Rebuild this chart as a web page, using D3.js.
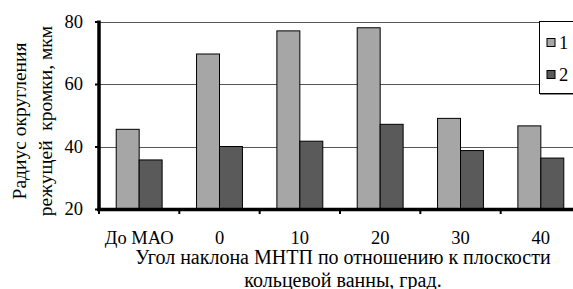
<!DOCTYPE html>
<html lang="ru">
    <head>
        <meta charset="utf-8">
        <script type="text/javascript" src="https://d3js.org/d3.v7.min.js"></script>
        <style type="text/css">
            body { margin: 0; background: #fff; }
        </style>
    </head>
    <body>
        <script type="text/javascript">

            //Data
            var categories = ["До МАО", "0", "10", "20", "30", "40"];
            var seriesNames = ["1", "2"];
            var series1 = [45.5, 69.6, 77.0, 78.0, 49.0, 46.6];
            var series2 = [35.7, 40.0, 41.7, 47.1, 38.7, 36.3];
            var yTicks = [20, 40, 60, 80];
            var yTitle = ["Радиус округления", "режущей  кромки, мкм"];
            var xTitle = ["Угол наклона МНТП по отношению к плоскости", "кольцевой ванны, град."];

            //Width and height
            var w = 573;
            var h = 289;
            var colors = ["#a6a6a6", "#5a5a5a"];
            var serif = "'Liberation Serif', 'Times New Roman', Tinos, 'DejaVu Serif', serif";
            var fontTick = "18.5px";
            var fontTitle = "20px";

            var svg = d3.select("body")
                        .append("svg")
                        .attr("width", w)
                        .attr("height", h)
                        .style("font-family", serif);

            svg.append("rect")
                .attr("width", w)
                .attr("height", h)
                .attr("fill", "#fff");

            //Scales (plot runs past the right edge, like the source)
            var xScale = d3.scaleBand()
                        .domain(categories)
                        .range([99, 581]);

            var xInner = d3.scaleBand()
                        .domain(seriesNames)
                        .range([0, xScale.bandwidth()])
                        .paddingOuter(0.75);

            var yScale = d3.scaleLinear()
                        .domain([20, 80])
                        .range([209, 21.5]);

            //Gridlines
            svg.append("g")
                .selectAll("line")
                .data(yTicks.slice(1))
                .enter()
                .append("line")
                .attr("x1", 99)
                .attr("x2", 581)
                .attr("y1", function(d) { return Math.round(yScale(d)) + 0.5; })
                .attr("y2", function(d) { return Math.round(yScale(d)) + 0.5; })
                .attr("stroke", "#555")
                .attr("stroke-width", 1);

            //Bars
            var table = categories.map(function(c, i) {
                return { cat: c, values: [series1[i], series2[i]] };
            });

            var groups = svg.append("g")
                .selectAll("g")
                .data(table)
                .enter()
                .append("g")
                .attr("transform", function(d) { return "translate(" + xScale(d.cat) + ",0)"; });

            groups.selectAll("rect")
                .data(function(d) { return d.values.map(function(v, j) { return { s: seriesNames[j], v: v, j: j }; }); })
                .enter()
                .append("rect")
                .attr("x", function(d) { return xInner(d.s); })
                .attr("width", xInner.bandwidth())
                .attr("y", function(d) { return yScale(d.v); })
                .attr("height", function(d) { return yScale(20) - yScale(d.v); })
                .attr("fill", function(d) { return colors[d.j]; })
                .attr("stroke", "#000")
                .attr("stroke-width", 1);

            //Y axis
            var yAxis = d3.axisLeft(yScale)
                        .tickValues(yTicks)
                        .tickSize(4)
                        .tickPadding(12)
                        .tickFormat(d3.format("d"));

            var gy = svg.append("g")
                .attr("transform", "translate(99,0)")
                .call(yAxis);
            gy.attr("font-family", null).attr("font-size", null);
            gy.select(".domain").remove();
            gy.selectAll(".tick line").attr("stroke", "#000").attr("stroke-width", 2);
            gy.selectAll(".tick text")
                .style("font-family", serif)
                .style("font-size", fontTick);

            svg.append("line")
                .attr("x1", 99).attr("x2", 99)
                .attr("y1", yScale(80) - 1).attr("y2", yScale(20) + 2)
                .attr("stroke", "#000")
                .attr("stroke-width", 3.5);

            //X axis
            var tickPos = categories.map(function(c) { return xScale(c); });
            svg.append("g")
                .selectAll("line")
                .data(tickPos)
                .enter()
                .append("line")
                .attr("x1", function(d) { return d; })
                .attr("x2", function(d) { return d; })
                .attr("y1", 209)
                .attr("y2", 214)
                .attr("stroke", "#000")
                .attr("stroke-width", 2);

            svg.append("line")
                .attr("x1", 97).attr("x2", 581)
                .attr("y1", 209.5).attr("y2", 209.5)
                .attr("stroke", "#000")
                .attr("stroke-width", 3.5);

            svg.append("g")
                .selectAll("text")
                .data(categories)
                .enter()
                .append("text")
                .attr("x", function(d) { return xScale(d) + xScale.bandwidth() / 2; })
                .attr("y", 244)
                .attr("text-anchor", "middle")
                .style("font-family", serif)
                .style("font-size", fontTick)
                .text(function(d) { return d; });

            //Axis titles
            svg.append("g")
                .selectAll("text")
                .data(xTitle)
                .enter()
                .append("text")
                .attr("x", 343)
                .attr("y", function(d, i) { return 264 + i * 22.5; })
                .attr("text-anchor", "middle")
                .style("font-family", serif)
                .style("font-size", fontTitle)
                .text(function(d) { return d; });

            svg.append("g")
                .selectAll("text")
                .data(yTitle)
                .enter()
                .append("text")
                .attr("transform", function(d, i) { return "translate(" + (26 + i * 26) + ",121) rotate(-90)"; })
                .attr("text-anchor", "middle")
                .style("font-family", serif)
                .style("font-size", "19.5px")
                .style("white-space", "pre")
                .text(function(d) { return d; });

            //Legend
            var legend = svg.append("g");
            legend.append("rect")
                .attr("x", 540)
                .attr("y", 93)
                .attr("width", 60)
                .attr("height", 2)
                .attr("fill", "#888");
            legend.append("rect")
                .attr("x", 539.5)
                .attr("y", 21.5)
                .attr("width", 60)
                .attr("height", 72)
                .attr("fill", "#fff")
                .attr("stroke", "#000")
                .attr("stroke-width", 1);

            var items = legend.selectAll(".item")
                .data(seriesNames)
                .enter()
                .append("g")
                .attr("class", "item")
                .attr("transform", function(d, i) { return "translate(547," + (38.5 + i * 32) + ")"; });

            items.append("rect")
                .attr("width", 8)
                .attr("height", 8)
                .attr("fill", function(d, i) { return colors[i]; })
                .attr("stroke", "#000")
                .attr("stroke-width", 1);

            items.append("text")
                .attr("x", 12)
                .attr("y", 10)
                .style("font-family", serif)
                .style("font-size", fontTick)
                .text(function(d) { return d; });

        </script>
    </body>
</html>
